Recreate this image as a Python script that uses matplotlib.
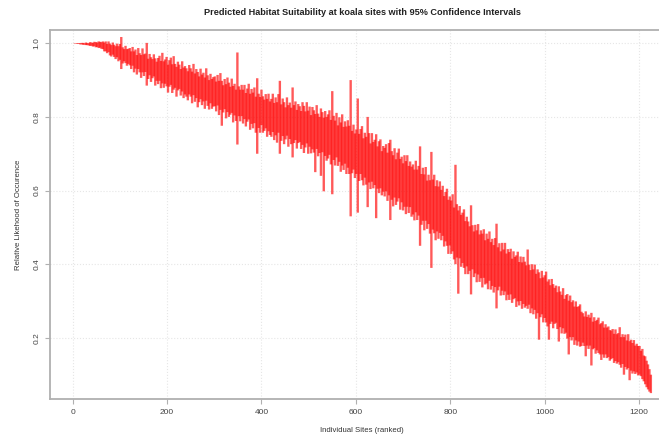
import numpy as np
import matplotlib
matplotlib.use("Agg")
import matplotlib.pyplot as plt

# ranked sites, every third site (1, 4, 7 ... 1225)
sites = np.arange(1, 1226, 3)

# 95% CI bounds per site, in thousandths (one row = 20 sites)
upper = [
 1000,1000,1000,1000,1000,1000,1001,1001,1000,1002,1001,1000,1003,1002,1001,1004,1003,1002,1005,1004,
 1003,1005,1002,1005,998,1005,999,995,1002,996,992,999,992,998,1017,989,984,993,984,985,
 987,978,990,978,983,968,987,973,968,986,970,972,1001,958,971,962,957,970,959,950,
 960,966,952,974,951,956,963,942,954,961,943,965,944,936,950,942,930,951,934,938,
 932,924,941,932,923,944,918,930,922,910,931,915,920,907,932,913,900,917,903,908,
 910,896,914,898,919,898,886,903,889,907,893,882,904,884,890,874,975,883,874,887,
 874,887,865,877,890,863,876,866,880,855,905,863,854,874,856,847,862,849,863,842,
 849,863,838,853,840,862,898,834,850,840,826,853,832,839,825,880,832,842,819,835,
 829,816,840,830,815,840,817,828,805,827,818,808,832,809,800,823,813,798,816,800,
 807,818,792,870,803,790,811,777,799,785,807,773,788,774,791,776,900,762,779,755,
 766,850,754,767,775,742,757,746,800,756,728,756,732,738,753,720,734,739,707,721,
 716,726,703,729,738,707,696,715,685,703,714,686,692,674,696,680,696,667,679,665,
 671,657,681,657,667,720,645,662,644,664,627,643,628,705,630,643,612,628,611,625,
 602,613,585,596,605,575,584,573,590,554,670,563,546,558,534,540,549,517,529,516,
 503,560,506,489,507,492,509,481,492,483,495,465,483,469,489,460,469,452,471,510,
 446,457,435,458,440,458,429,441,433,442,415,435,420,424,434,406,421,405,420,407,
 397,440,399,384,400,386,399,374,386,378,362,382,364,370,380,353,359,343,360,346,
 336,342,324,340,326,317,335,306,316,319,301,315,297,302,285,299,284,286,291,271,
 267,258,272,257,263,255,268,244,256,246,249,255,237,240,245,228,237,228,231,221,
 220,224,211,223,210,213,229,202,210,202,209,193,210,191,195,186,194,179,184,178,
 178,165,170,152,150,138,128,115,100]

lower = [
 1000,999,999,998,998,997,997,996,996,995,995,994,993,993,991,992,989,990,987,988,
 985,984,978,978,973,976,967,964,969,963,957,962,951,955,930,945,951,946,939,944,
 940,930,939,921,931,915,930,921,906,921,911,922,885,903,913,895,905,910,885,898,
 889,898,878,891,879,890,883,866,882,887,865,874,879,855,872,876,858,869,851,861,
 855,845,861,855,837,859,841,851,826,840,848,832,842,822,844,830,820,837,822,828,
 829,815,831,805,819,776,812,821,796,813,800,806,811,785,804,789,725,802,788,802,
 782,794,774,787,793,765,781,769,783,757,700,770,757,778,757,762,769,746,761,751,
 746,759,737,750,730,757,700,735,748,726,739,749,719,740,726,690,729,737,714,729,
 732,713,724,702,717,728,700,719,701,712,703,650,713,693,702,640,704,598,694,681,
 687,697,671,590,683,668,690,667,678,651,668,656,673,645,662,645,530,647,657,634,
 645,540,626,645,628,614,635,616,555,622,604,624,606,615,525,605,593,606,587,597,
 584,598,572,587,520,575,557,581,561,570,579,548,568,546,556,536,556,539,555,529,
 535,519,541,520,532,450,507,518,492,518,496,509,483,390,494,484,465,489,469,485,
 465,477,448,462,450,428,451,428,435,413,400,418,320,416,393,403,390,373,394,373,
 382,318,386,365,375,351,372,352,362,337,363,345,348,332,355,331,341,323,338,280,
 329,339,315,328,316,326,302,317,303,318,295,305,308,284,299,288,300,279,292,282,
 287,279,290,267,280,264,276,252,267,195,256,264,242,254,242,231,195,238,244,226,
 238,241,224,190,229,212,226,211,214,198,155,202,193,202,181,193,179,190,176,178,
 187,178,150,179,170,179,125,169,172,157,166,159,155,140,155,146,155,145,148,138,
 142,145,132,137,130,134,127,119,129,100,121,114,118,85,111,103,109,102,106,98,
 100,96,88,82,74,66,60,54,50]

lower = np.array(lower) / 1000.0
upper = np.array(upper) / 1000.0

xticks = [0, 200, 400, 600, 800, 1000, 1200]
yticks = [0.2, 0.4, 0.6, 0.8, 1.0]

plt.rcParams['font.family'] = ['Liberation Sans', 'DejaVu Sans']

fig = plt.figure(figsize=(6.59, 4.41), dpi=100)
# plot region runs past the right edge, like the cropped original
ax = fig.add_axes([50/659, 1-399/441, 624/659, 369/441])

ax.vlines(sites, lower, upper, colors='red', linewidth=1.7, alpha=0.65, snap=False)

ax.set_xlim(-48, 1274)
ax.set_ylim(0.034, 1.036)
ax.set_xticks(xticks)
ax.set_yticks(yticks)
ax.set_yticklabels(['0.2', '0.4', '0.6', '0.8', '1.0'], rotation=90, va='center')
ax.grid(True, color='#e6e6e6', linestyle=':', linewidth=0.8)
ax.set_axisbelow(True)

for side in ['left', 'bottom', 'top']:
    ax.spines[side].set_color('#b0b0b0')
    ax.spines[side].set_linewidth(1.3)
ax.spines['right'].set_visible(False)
ax.tick_params(colors='#b0b0b0', labelcolor='#444444', labelsize=6, length=3.5, width=0.8)

ax.set_title('Predicted Habitat Suitability at koala sites with 95% Confidence Intervals',
             fontsize=6.6, fontweight='bold', color='#222222', pad=11)
ax.set_xlabel('Individual Sites (ranked)', fontsize=5.6, color='#333333', labelpad=8)
ax.set_ylabel('Relative Likehood of Occurence', fontsize=5.6, color='#333333', labelpad=8)

fig.savefig('out.png', dpi=100)
